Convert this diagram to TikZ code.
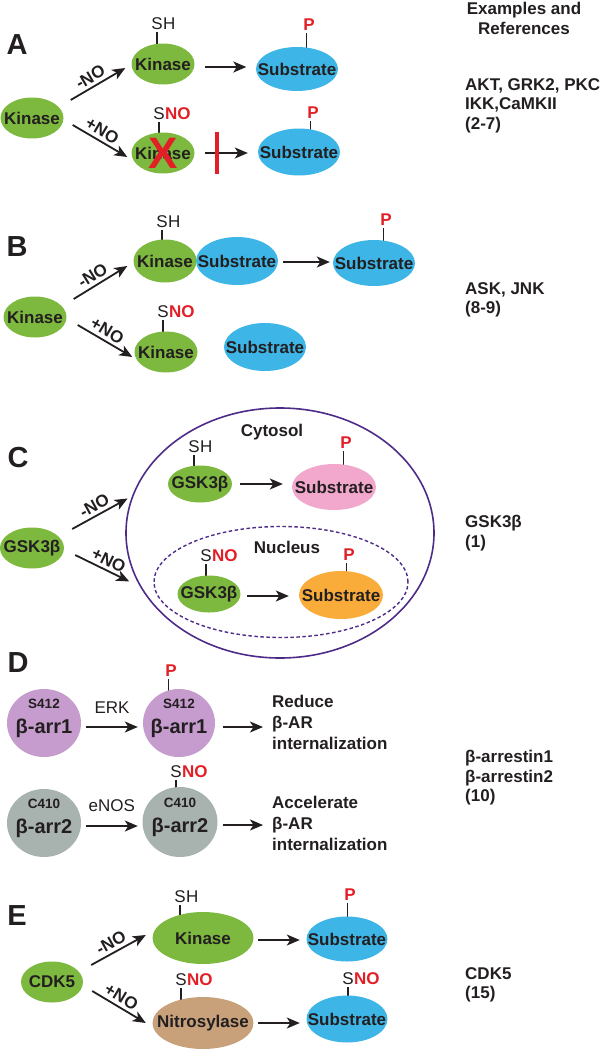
\documentclass[tikz,border=0pt]{standalone}
\usepackage{fontspec}
\setmainfont{Liberation Sans}
\usepackage{xcolor}
\usepackage{tikz}
\usetikzlibrary{positioning,arrows.meta,shapes.geometric,backgrounds,calc}
\definecolor{KinaseGreen}{HTML}{7DB83F}
\definecolor{SubstrateBlue}{HTML}{3DB5E6}
\definecolor{CytoPink}{HTML}{F2A7CC}
\definecolor{NucOrange}{HTML}{F9AC3A}
\definecolor{NitroTan}{HTML}{C8A17B}
\definecolor{ArrLilac}{HTML}{C59CCD}
\definecolor{ArrGray}{HTML}{A8B2AE}
\definecolor{CellPurple}{HTML}{4F2B88}
\definecolor{NORed}{HTML}{E21F26}
\definecolor{TextDark}{HTML}{231F20}
\newcommand{\fsz}[1]{\fontsize{#1}{#1}\selectfont}

\begin{document}
\begin{tikzpicture}[x=1pt, y=-1pt,
    every node/.style={text=TextDark, font=\bfseries\fsz{17}},
    mol/.style={ellipse, inner sep=0pt, minimum width=63, minimum height=41, label={center:#1}},
    kin/.style={mol=#1, fill=KinaseGreen},
    kin/.default=Kinase,
    sub/.style={mol=#1, fill=SubstrateBlue, minimum width=82, minimum height=46},
    sub/.default=Substrate,
    arrest/.style={ellipse, inner sep=0pt, minimum width=74, minimum height=68},
    arrbig/.style={font=\bfseries\fsz{20}, inner sep=0pt, text height=20pt, text depth=0pt},
    arrtag/.style={font=\bfseries\fsz{13.5}, inner sep=0pt, yshift=19pt},
    site/.style={inner sep=0pt, font=\fsz{17}},
    nomark/.style={inner sep=0pt, text=NORed, font=\bfseries\fsz{17}},
    stem/.style={line width=1.3pt, draw=TextDark, shorten <=2pt},
    arr/.style={-{Stealth[length=13pt, width=11pt, inset=3.5pt]}, line width=1.8pt, draw=TextDark},
    cond/.style={sloped, above=2pt, inner sep=1pt, pos=0.45},
    enz/.style={inner sep=0pt, above=13pt, font=\fsz{17}},
    panel/.style={inner sep=0pt, font=\bfseries\fsz{29}},
    ref/.style={anchor=north west, align=left, inner sep=0pt, font=\bfseries\fontsize{17}{19.5}\selectfont},
    note/.style={anchor=north west, align=left, inner sep=0pt, font=\bfseries\fontsize{17}{21}\selectfont}
  ]
  \useasboundingbox (0,0) rectangle (604,1050);

  % references column
  \node[ref, anchor=north, align=center] (refHead) at (524,2) {Examples and\\References};
  \foreach \y/\txt [count=\i] in {78/{AKT, GRK2, PKC\\IKK,CaMKII\\(2-7)},
      282/{ASK, JNK\\(8-9)}, 515/{GSK3β\\(1)},
      750/{β-arrestin1\\β-arrestin2\\(10)}, 967/{CDK5\\(15)}}{
    \node[ref] (ref\i) at (465,\y) {\txt};
  }

  % A
  \node[panel] (labA) at (17,45) {A};
  \node[kin] (kA0) at (32,118) {};
  \node[kin] (kA1) at (163,64) {};
  \node[kin] (kA2) at (163,153) {};
  \node[sub, minimum height=44] (sA1) at (297,69) {};
  \node[sub, minimum height=47] (sA2) at (299,152) {};
  \node[font=\bfseries\fsz{44}, text=NORed, inner sep=0pt] (xA2) at (kA2) {X};
  \draw[arr] ([shift={(7,-18)}]kA0.east) -- node[cond] {-NO} ([shift={(-6,4)}]kA1.west);
  \draw[arr] ([shift={(9,7)}]kA0.east) -- node[cond] {+NO} ([shift={(-4,4)}]kA2.west);
  \draw[arr, shorten <=10.5pt, shorten >=9.5pt] ([yshift=-3pt]kA1.east) -- ([yshift=-3pt]kA1.east -| sA1.west);
  \draw[arr, shorten <=10.5pt, shorten >=10pt] (kA2.east) -- (kA2.east -| sA2.west);
  \path (kA2.east) -- (sA2.west) coordinate[pos=0.355] (blkA);
  \draw[NORed, line width=3.5pt] ([yshift=21pt]blkA) -- ([yshift=-21pt]blkA);
  \node[site] (sulA1) at (157,23.5) {S};
  \node[site, anchor=base west] (hA1) at (sulA1.base east) {H};
  \node[nomark] (pA1) at (309,25) {P};
  \node[site] (sulA2) at (159,114) {S};
  \node[nomark, anchor=base west] (noA2) at (sulA2.base east) {NO};
  \node[nomark] (pA2) at (313,112.5) {P};
  \begin{scope}[on background layer]
    \draw[stem] (sulA1.south) -- (sulA1.south |- kA1.center);
    \draw[stem] (sulA2.south) -- (sulA2.south |- kA2.center);
    \draw[stem] ([xshift=-2.5pt]pA1.south) -- ([xshift=-2.5pt]pA1.south |- sA1.center);
    \draw[stem] ([xshift=-2.5pt]pA2.south) -- ([xshift=-2.5pt]pA2.south |- sA2.center);
  \end{scope}

  % B
  \node[panel] (labB) at (17,247) {B};
  \node[sub, minimum height=48] (sB1) at (237,261) {};
  \node[kin, minimum height=43] (kB1) at (165,261) {};
  \node[sub] (sB2) at (374,263) {};
  \node[kin] (kB0) at (35,317) {};
  \node[kin] (kB2) at (166,352) {};
  \node[sub, minimum height=48] (sB3) at (265,347) {};
  \draw[arr] ([shift={(7,-18)}]kB0.east) -- node[cond] {-NO} ([shift={(-6,5)}]kB1.west);
  \draw[arr] ([shift={(11,8)}]kB0.east) -- node[cond] {+NO} ([shift={(-2,5)}]kB2.west);
  \draw[arr, shorten <=5pt, shorten >=3pt] ([yshift=-1pt]sB1.east) -- ([yshift=-1pt]sB1.east -| sB2.west);
  \node[site] (sulB1) at (162,222) {S};
  \node[site, anchor=base west] (hB1) at (sulB1.base east) {H};
  \node[nomark] (pB2) at (386,220) {P};
  \node[site] (sulB2) at (163,312) {S};
  \node[nomark, anchor=base west] (noB2) at (sulB2.base east) {NO};
  \begin{scope}[on background layer]
    \draw[stem] (sulB1.south) -- (sulB1.south |- kB1.center);
    \draw[stem] (sulB2.south) -- (sulB2.south |- kB2.center);
    \draw[stem] ([xshift=-2.5pt]pB2.south) -- ([xshift=-2.5pt]pB2.south |- sB2.center);
  \end{scope}

  % C
  \node[panel] (labC) at (18,458) {C};
  \node[ellipse, draw=CellPurple, line width=1.6pt, inner sep=0pt,
        minimum width=308, minimum height=250] (cyto) at (280,533) {};
  \node[ellipse, draw=CellPurple, line width=1.4pt, dash pattern=on 3.5pt off 2.5pt,
        inner sep=0pt, minimum width=254, minimum height=111] (nuc) at (281,582) {};
  \node[inner sep=0pt] (cytoT) at (272,432) {Cytosol};
  \node[inner sep=0pt] (nucT) at (287,547) {Nucleus};
  \node[kin=GSK3β, minimum width=64] (gC0) at (32,548) {};
  \node[kin=GSK3β, minimum width=64, minimum height=37] (gC1) at (200,484) {};
  \node[kin=GSK3β, minimum height=37] (gC2) at (209,594) {};
  \node[sub, fill=CytoPink, minimum width=84] (sC1) at (334,487) {};
  \node[sub, fill=NucOrange, minimum width=84, minimum height=48] (sC2) at (341,595) {};
  \draw[arr, shorten >=5pt] ([shift={(8,-19)}]gC0.east) -- node[cond] {-NO} (cyto.166);
  \draw[arr, shorten >=12pt] ([shift={(11,7)}]gC0.east) -- node[cond] {+NO} (cyto.-159);
  \draw[arr, shorten <=8pt, shorten >=9pt] (gC1.east) -- (gC1.east -| sC1.west);
  \draw[arr, shorten <=6.5pt, shorten >=10pt] ([yshift=-2pt]gC2.east) -- ([yshift=-2pt]gC2.east -| sC2.west);
  \node[site] (sulC1) at (194,447) {S};
  \node[site, anchor=base west] (hC1) at (sulC1.base east) {H};
  \node[nomark] (pC1) at (346,443) {P};
  \node[site] (sulC2) at (206,556) {S};
  \node[nomark, anchor=base west] (noC2) at (sulC2.base east) {NO};
  \node[nomark] (pC2) at (349,555) {P};
  \begin{scope}[on background layer]
    \draw[stem] (sulC1.south) -- (sulC1.south |- gC1.center);
    \draw[stem] (sulC2.south) -- (sulC2.south |- gC2.center);
    \draw[stem] ([xshift=-2.5pt]pC1.south) -- ([xshift=-2.5pt]pC1.south |- sC1.center);
    \draw[stem] ([xshift=-2.5pt]pC2.south) -- ([xshift=-2.5pt]pC2.south |- sC2.center);
  \end{scope}

  % D
  \node[panel] (labD) at (18,663) {D};
  \node[arrest, fill=ArrLilac, label={[arrtag]center:S412}, label={[arrbig]center:β-arr1}] (a1L) at (44,723) {};
  \node[arrest, fill=ArrLilac, minimum width=72, label={[arrtag]center:S412}, label={[arrbig]center:β-arr1}] (a1R) at (179,723) {};
  \node[arrest, fill=ArrGray, label={[arrtag]center:C410}, label={[arrbig]center:β-arr2}] (a2L) at (44,823) {};
  \node[arrest, fill=ArrGray, minimum width=75, minimum height=70, label={[arrtag]center:C410}, label={[arrbig]center:β-arr2}] (a2R) at (180,822) {};
  \node[note] (redu) at (272,695) {Reduce\\β-AR\\internalization};
  \node[note] (accel) at (272,796) {Accelerate\\β-AR\\internalization};
  \draw[arr, shorten <=5pt, shorten >=5pt] ([yshift=-4pt]a1L.east) -- ([yshift=-4pt]a1L.east -| a1R.west)
    node[enz, midway] (erk) {ERK};
  \draw[arr, shorten <=8pt, shorten >=9pt] ([yshift=-4pt]a1R.east) -- ([yshift=-4pt]a1R.east -| redu.west);
  \draw[arr, shorten <=5pt, shorten >=4.5pt] ([yshift=-3pt]a2L.east) -- ([yshift=-3pt]a2L.east -| a2R.west)
    node[enz, midway] (enos) {eNOS};
  \draw[arr, shorten <=5.5pt, shorten >=9pt] ([yshift=-3pt]a2R.east) -- ([yshift=-3pt]a2R.east -| accel.west);
  \node[nomark] (pD1) at (171,671) {P};
  \node[site] (sulD2) at (176,772) {S};
  \node[nomark, anchor=base west] (noD2) at (sulD2.base east) {NO};
  \begin{scope}[on background layer]
    \draw[stem] ([xshift=-2.5pt]pD1.south) -- ([xshift=-2.5pt]pD1.south |- a1R.center);
    \draw[stem] (sulD2.south) -- (sulD2.south |- a2R.center);
  \end{scope}

  % E
  \node[panel] (labE) at (17,916) {E};
  \node[kin=CDK5, minimum width=62] (cdk) at (52,982) {};
  \node[kin, minimum width=101, minimum height=52] (kE1) at (203,938) {};
  \node[sub, minimum width=81, minimum height=45] (sE1) at (347,939) {};
  \node[mol=Nitrosylase, fill=NitroTan, minimum width=101, minimum height=52] (nE2) at (203,1023) {};
  \node[sub, minimum width=81, minimum height=47] (sE2) at (347,1019) {};
  \draw[arr] ([shift={(8,-17)}]cdk.east) -- node[cond] {-NO} ([shift={(-6.5,-3)}]kE1.west);
  \draw[arr] ([shift={(9,9)}]cdk.east) -- node[cond] {+NO} ([shift={(-6.5,0)}]nE2.west);
  \draw[arr, shorten <=4.5pt, shorten >=6.5pt] ([yshift=-2pt]kE1.east) -- ([yshift=-2pt]kE1.east -| sE1.west);
  \draw[arr, shorten <=4.5pt, shorten >=6.5pt] (nE2.east) -- (nE2.east -| sE2.west);
  \node[site] (sulE1) at (180,897) {S};
  \node[site, anchor=base west] (hE1) at (sulE1.base east) {H};
  \node[nomark] (pE1) at (350,895) {P};
  \node[site] (sulE2) at (181,979.5) {S};
  \node[nomark, anchor=base west] (noE2) at (sulE2.base east) {NO};
  \node[site] (sulE3) at (348,978.5) {S};
  \node[nomark, anchor=base west] (noE3) at (sulE3.base east) {NO};
  \begin{scope}[on background layer]
    \draw[stem] (sulE1.south) -- (sulE1.south |- kE1.center);
    \draw[stem] ([xshift=-2.5pt]pE1.south) -- ([xshift=-2.5pt]pE1.south |- sE1.center);
    \draw[stem] (sulE2.south) -- (sulE2.south |- nE2.center);
    \draw[stem] (sulE3.south) -- (sulE3.south |- sE2.center);
  \end{scope}
\end{tikzpicture}
\end{document}
